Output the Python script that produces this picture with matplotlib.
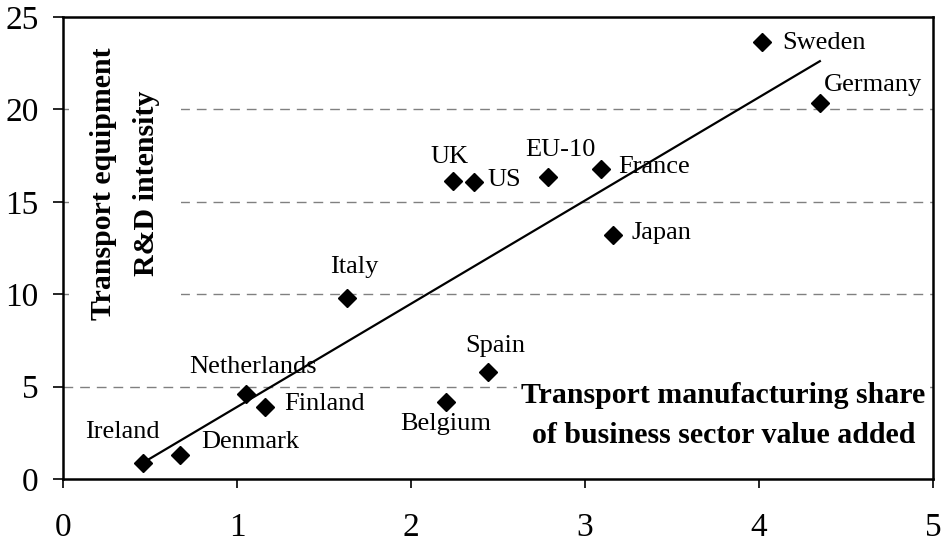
import numpy as np
import matplotlib
matplotlib.use("Agg")
import matplotlib.pyplot as plt

countries = ["Ireland", "Denmark", "Netherlands", "Finland", "Belgium", "Spain",
             "Italy", "UK", "US", "EU-10", "France", "Japan", "Sweden", "Germany"]
share = [0.46, 0.67, 1.05, 1.16, 2.20, 2.44, 1.63, 2.24, 2.36, 2.79, 3.09, 3.16, 4.02, 4.35]
intensity = [0.87, 1.3, 4.6, 3.9, 4.15, 5.8, 9.8, 16.15, 16.05, 16.35, 16.8, 13.2, 23.65, 20.35]
x_ticks = [0, 1, 2, 3, 4, 5]
y_ticks = [0, 5, 10, 15, 20, 25]

# label placement (offset pixels, horizontal alignment)
label_pos = {
    "Ireland": (-21, 31, "center"), "Denmark": (22, 13, "left"),
    "Netherlands": (7, 27, "center"), "Finland": (19, 3, "left"),
    "Belgium": (0, -22, "center"), "Spain": (8, 26, "center"),
    "Italy": (8, 31, "center"), "UK": (-3, 24, "center"),
    "US": (14, 2, "left"), "EU-10": (12, 27, "center"),
    "France": (18, 2, "left"), "Japan": (19, 2, "left"),
    "Sweden": (20, -1, "left"), "Germany": (4, 18, "left"),
}

serif = ["Liberation Serif", "DejaVu Serif"]
plt.rcParams["font.family"] = serif

fig = plt.figure(figsize=(9.44, 5.43), dpi=100)
ax = fig.add_axes([0.0667, 0.1179, 0.9216, 0.8508])

ax.set_xlim(0, 5)
ax.set_ylim(0, 25)
ax.set_xticks(x_ticks)
ax.set_yticks(y_ticks)
ax.set_xticklabels([str(v) for v in x_ticks])
ax.set_yticklabels([str(v) for v in y_ticks])
ax.tick_params(axis="x", direction="out", length=6.5, width=1.2, pad=17.5, labelsize=24)
ax.tick_params(axis="y", direction="out", length=7, width=1.2, pad=10.5, labelsize=24)
for s in ax.spines.values():
    s.set_linewidth(1.8)
    s.set_color("black")

for yv in y_ticks[1:-1]:
    ax.axhline(yv, color="#808080", lw=1.0, ls=(0, (7, 5)), zorder=1)

xs = np.array(share)
ys = np.array(intensity)
slope, intercept = np.polyfit(xs, ys, 1)
xl = np.array([xs.min(), xs.max()])
ax.plot(xl, slope * xl + intercept, color="black", lw=1.6, zorder=2)

ax.plot(xs, ys, linestyle="none", marker="D", markersize=9, color="black", zorder=3)

for c, xv, yv in zip(countries, share, intensity):
    dx, dy, ha = label_pos[c]
    ax.annotate(c, (xv, yv), xytext=(dx, dy), textcoords="offset pixels",
                ha=ha, va="center", fontsize=19, zorder=4)

ax.text(0.071, 0.64, "Transport equipment\nR&D intensity", transform=ax.transAxes,
        rotation=90, ha="center", va="center", fontsize=21.5, fontweight="bold",
        linespacing=1.75, multialignment="center", zorder=5,
        bbox=dict(facecolor="white", edgecolor="none", pad=15))
ax.text(0.759, 0.137, "Transport manufacturing share\nof business sector value added",
        transform=ax.transAxes, ha="center", va="center", fontsize=21.5,
        fontweight="bold", linespacing=1.6, multialignment="center", zorder=5,
        bbox=dict(facecolor="white", edgecolor="none", pad=3))

fig.savefig("out.png", dpi=100)
